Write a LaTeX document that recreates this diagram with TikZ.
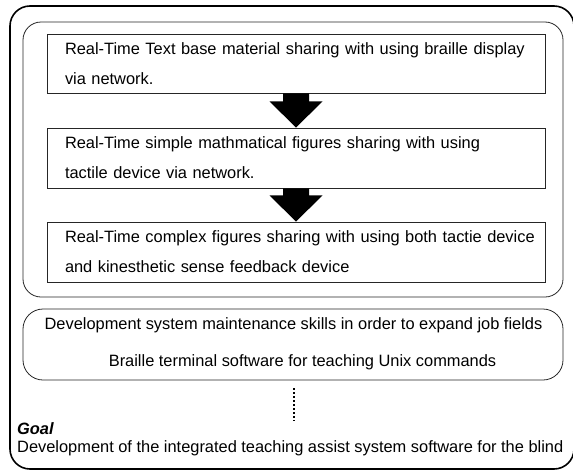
\documentclass[tikz,border=0pt]{standalone}
\usepackage{fontspec}
\setmainfont{Liberation Sans}
\usetikzlibrary{calc}
\tikzset{
  rectbox/.style={draw=black!85, line width=0.8pt, minimum width=498pt, minimum height=59pt,
    text width=462pt, inner xsep=18pt, align=left, font=\fontsize{16.4}{30}\selectfont},
  roundbox/.style={draw=black!85, line width=0.8pt, rounded corners=18pt},
  outerbox/.style={draw=black, line width=1.6pt, rounded corners=20pt},
  bigarrow/.style={fill=black},
  dotline/.style={line width=1.8pt, dash pattern=on 1.8pt off 2.2pt},
  txt/.style={font=\fontsize{16.4}{19}\selectfont, inner sep=0pt}
}
\begin{document}
\begin{tikzpicture}[x=1pt,y=-1pt]
\useasboundingbox (0,0) rectangle (573,474);
\node[outerbox, minimum width=564pt, minimum height=463pt] (outer) at (292,237.5) {};
\node[roundbox, minimum width=540pt, minimum height=275pt] (inner) at (293,159.5) {};
\node[rectbox] (b1) at (296,63.5) {\mbox{Real-Time Text base material sharing with using braille display}\\ via network.};
\node[rectbox, minimum height=60pt] (b2) at (296,158) {\mbox{Real-Time simple mathmatical figures sharing with using}\\ tactile device via network.};
\node[rectbox, minimum height=60pt] (b3) at (296,252) {\mbox{Real-Time complex figures sharing with using both tactie device}\\ and kinesthetic sense feedback device};
\fill[bigarrow] ($(b1.south)+(-13,0)$) -- ($(b1.south)+(13,0)$) -- ($(b1.south)+(13,8)$) -- ($(b1.south)+(26.5,8)$) -- (b2.north) -- ($(b1.south)+(-26.5,8)$) -- ($(b1.south)+(-13,8)$) -- cycle;
\fill[bigarrow] ($(b2.south)+(-13,0)$) -- ($(b2.south)+(13,0)$) -- ($(b2.south)+(13,7)$) -- ($(b2.south)+(26.5,7)$) -- (b3.north) -- ($(b2.south)+(-26.5,7)$) -- ($(b2.south)+(-13,7)$) -- cycle;
\node[roundbox, rounded corners=20pt, minimum width=540pt, minimum height=71pt] (b4) at (293,344.5) {};
\node[txt] (l1) at (293.5,325) {Development system maintenance skills in order to expand job fields};
\node[txt] (l2) at (302.5,362) {Braille terminal software for teaching Unix commands};
\node[txt, anchor=west, font=\fontsize{16.4}{19}\bfseries\itshape] (goal) at (17,429) {Goal};
\node[txt, anchor=west] (goaltext) at (17,448) {Development of the integrated teaching assist system software for the blind};
\coordinate (dend) at (294,421);
\draw[dotline] ($(b4.south)+(1,8)$) -- (dend);
\end{tikzpicture}
\end{document}
